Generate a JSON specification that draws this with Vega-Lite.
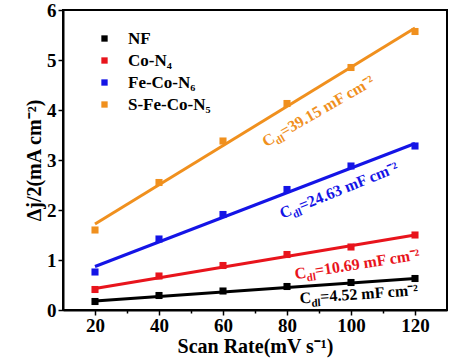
{
  "$schema": "https://vega.github.io/schema/vega-lite/v6.json",
  "autosize": "none",
  "width": 384,
  "height": 300,
  "padding": {"left": 63, "top": 10, "right": 3, "bottom": 54},
  "background": "white",
  "config": {
    "font": "Liberation Serif",
    "view": {"stroke": "black", "strokeWidth": 2},
    "axis": {"labelFont": "Liberation Serif", "titleFont": "Liberation Serif", "labelFontWeight": "bold", "titleFontWeight": "bold", "labelColor": "black", "titleColor": "black", "domainColor": "black", "domainWidth": 2, "tickColor": "black", "tickWidth": 1.5, "grid": false, "labelFontSize": 19, "titleFontSize": 20}
  },
  "datasets": {
    "pts": [
      {"series": "NF", "rate": 20, "dj": 0.17}, {"series": "NF", "rate": 40, "dj": 0.29}, {"series": "NF", "rate": 60, "dj": 0.38}, {"series": "NF", "rate": 80, "dj": 0.47}, {"series": "NF", "rate": 100, "dj": 0.55}, {"series": "NF", "rate": 120, "dj": 0.63},
      {"series": "Co-N₄", "rate": 20, "dj": 0.41}, {"series": "Co-N₄", "rate": 40, "dj": 0.68}, {"series": "Co-N₄", "rate": 60, "dj": 0.89}, {"series": "Co-N₄", "rate": 80, "dj": 1.11}, {"series": "Co-N₄", "rate": 100, "dj": 1.26}, {"series": "Co-N₄", "rate": 120, "dj": 1.50},
      {"series": "Fe-Co-N₆", "rate": 20, "dj": 0.76}, {"series": "Fe-Co-N₆", "rate": 40, "dj": 1.42}, {"series": "Fe-Co-N₆", "rate": 60, "dj": 1.91}, {"series": "Fe-Co-N₆", "rate": 80, "dj": 2.41}, {"series": "Fe-Co-N₆", "rate": 100, "dj": 2.88}, {"series": "Fe-Co-N₆", "rate": 120, "dj": 3.28},
      {"series": "S-Fe-Co-N₅", "rate": 20, "dj": 1.60}, {"series": "S-Fe-Co-N₅", "rate": 40, "dj": 2.55}, {"series": "S-Fe-Co-N₅", "rate": 60, "dj": 3.38}, {"series": "S-Fe-Co-N₅", "rate": 80, "dj": 4.13}, {"series": "S-Fe-Co-N₅", "rate": 100, "dj": 4.85}, {"series": "S-Fe-Co-N₅", "rate": 120, "dj": 5.57}
    ],
    "fits": [
      {"series": "NF", "rate": 20, "dj": 0.18}, {"series": "NF", "rate": 120, "dj": 0.63},
      {"series": "Co-N₄", "rate": 20, "dj": 0.43}, {"series": "Co-N₄", "rate": 120, "dj": 1.50},
      {"series": "Fe-Co-N₆", "rate": 20, "dj": 0.87}, {"series": "Fe-Co-N₆", "rate": 120, "dj": 3.33},
      {"series": "S-Fe-Co-N₅", "rate": 20, "dj": 1.72}, {"series": "S-Fe-Co-N₅", "rate": 120, "dj": 5.64}
    ],
    "notes": [
      {"series": "NF", "rate": 90.5, "dj": 0.16, "angle": -4, "rest": "=4.52 mF cm⁻²"},
      {"series": "Co-N₄", "rate": 89, "dj": 0.68, "angle": -9, "rest": "=10.69 mF cm⁻²"},
      {"series": "Fe-Co-N₆", "rate": 84.5, "dj": 1.98, "angle": -22, "rest": "=24.63 mF cm⁻²"},
      {"series": "S-Fe-Co-N₅", "rate": 79, "dj": 3.46, "angle": -30, "rest": "=39.15 mF cm⁻²"}
    ]
  },
  "encoding": {
    "x": {"field": "rate", "type": "quantitative", "scale": {"domain": [10, 130]},
      "axis": {"title": "Scan Rate(mV s⁻¹)", "format": "d", "values": [20, 30, 40, 50, 60, 70, 80, 90, 100, 110, 120], "labelExpr": "datum.value % 20 === 0 ? datum.label : ''", "tickSize": {"condition": {"test": "datum.value % 20 === 0", "value": 5}, "value": 3}, "labelPadding": 1, "titlePadding": 1, "labelFlush": false}},
    "y": {"field": "dj", "type": "quantitative", "scale": {"domain": [0, 6]},
      "axis": {"title": "Δj/2(mA cm⁻²)", "format": "d", "values": [0, 0.5, 1, 1.5, 2, 2.5, 3, 3.5, 4, 4.5, 5, 5.5, 6], "labelExpr": "datum.value % 1 === 0 ? datum.label : ''", "tickSize": {"condition": {"test": "datum.value % 1 === 0", "value": 5}, "value": 3}, "labelPadding": 2, "titlePadding": 2, "labelFlush": false}},
    "color": {"field": "series", "type": "nominal",
      "scale": {"domain": ["NF", "Co-N₄", "Fe-Co-N₆", "S-Fe-Co-N₅"], "range": ["#000000", "#E8141C", "#1414E6", "#F0901E"]},
      "legend": {"title": null, "orient": "none", "legendX": 33, "legendY": 20, "padding": 0, "labelFont": "Liberation Serif", "labelFontWeight": "bold", "labelFontSize": 17, "labelColor": "black", "symbolSize": 40, "symbolType": "square", "rowPadding": 4, "labelOffset": 15, "symbolStrokeWidth": 0}}
  },
  "layer": [
    {"data": {"name": "fits"}, "mark": {"type": "line", "strokeWidth": 3}},
    {"data": {"name": "pts"}, "mark": {"type": "point", "shape": "square", "filled": true, "size": 50, "opacity": 1}},
    {"data": {"name": "notes"}, "mark": {"type": "text", "text": "C", "align": "right", "baseline": "alphabetic", "dx": -9, "fontSize": 16, "fontWeight": "bold", "font": "Liberation Serif"},
      "encoding": {"angle": {"field": "angle", "type": "quantitative", "scale": null}}},
    {"data": {"name": "notes"}, "mark": {"type": "text", "text": "dl", "align": "right", "baseline": "alphabetic", "dx": 0, "dy": 4, "fontSize": 11, "fontWeight": "bold", "font": "Liberation Serif"},
      "encoding": {"angle": {"field": "angle", "type": "quantitative", "scale": null}}},
    {"data": {"name": "notes"}, "mark": {"type": "text", "align": "left", "baseline": "alphabetic", "dx": 0, "fontSize": 16, "fontWeight": "bold", "font": "Liberation Serif"},
      "encoding": {"text": {"field": "rest"}, "angle": {"field": "angle", "type": "quantitative", "scale": null}}}
  ]
}
